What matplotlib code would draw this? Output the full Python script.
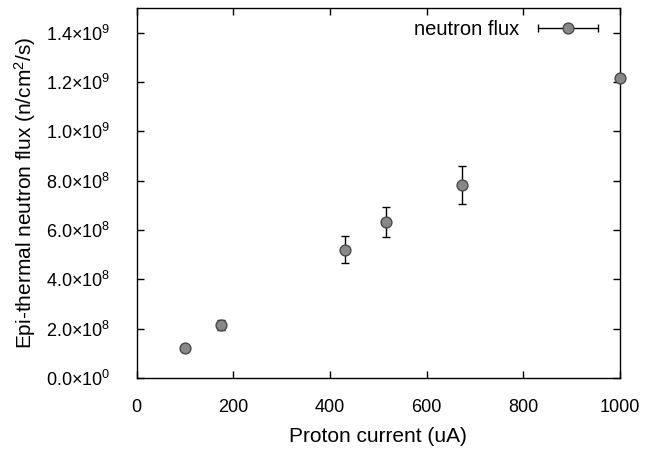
import matplotlib
matplotlib.use("Agg")
import matplotlib.pyplot as plt
import numpy as np
from matplotlib.container import ErrorbarContainer
from matplotlib.legend_handler import HandlerErrorbar
from matplotlib.ticker import FuncFormatter, MultipleLocator

plt.rcParams['font.family'] = ['Liberation Sans', 'DejaVu Sans']
plt.rcParams['mathtext.fontset'] = 'custom'
plt.rcParams['mathtext.rm'] = 'Liberation Sans'
plt.rcParams['mathtext.it'] = 'Liberation Sans:italic'
plt.rcParams['mathtext.bf'] = 'Liberation Sans:bold'

# Data
proton_current = [100, 175, 432, 515, 674, 1000]
neutron_flux = [1.2e8, 2.15e8, 5.2e8, 6.33e8, 7.82e8, 1.216e9]
flux_err = [0.1e8, 0.22e8, 0.54e8, 0.6e8, 0.78e8, 0.0]
x_ticks = [0, 200, 400, 600, 800, 1000]

FS_TICK = 13
FS_LABEL = 15
FS_LEG = 14.5

fig = plt.figure(figsize=(6.58, 4.55), dpi=100)
ax = fig.add_axes([136.5/658, 1-378/455, (620-136.5)/658, (378-8)/455])

eb = ax.errorbar(proton_current, neutron_flux, yerr=flux_err, fmt='o',
                 color='black', ecolor='black', elinewidth=1.0, capsize=3.0,
                 capthick=1.0, markersize=7.8, markerfacecolor='#888888',
                 markeredgecolor='#4a4a4a', markeredgewidth=1.0, clip_on=False,
                 zorder=3)
for a in eb.lines[1]:
    a.set_clip_on(False)
for a in eb.lines[2]:
    a.set_clip_on(False)

ax.set_xlim(0, 1000)
ax.set_ylim(0, 1.5e9)
ax.set_xticks(x_ticks)
ax.yaxis.set_major_locator(MultipleLocator(2e8))


def yfmt(v, pos):
    if v == 0:
        return r'0.0$\times$10$^{0}$'
    e = int(np.floor(np.log10(abs(v))))
    m = v / 10**e
    return r'%.1f$\times$10$^{%d}$' % (m, e)


ax.yaxis.set_major_formatter(FuncFormatter(yfmt))
ax.tick_params(direction='in', length=5, width=1.0, top=True, right=True,
               labelsize=FS_TICK, colors='black')
ax.tick_params(axis='x', pad=15)
ax.tick_params(axis='y', pad=19)
for s in ax.spines.values():
    s.set_linewidth(1.0)

ax.set_xlabel('Proton current (uA)', fontsize=FS_LABEL, labelpad=8)
ax.set_ylabel(r'Epi-thermal neutron flux (n/cm$^{2}$/s)', fontsize=FS_LABEL, labelpad=6)

proxy = ErrorbarContainer((eb.lines[0], eb.lines[1], eb.lines[2]),
                          has_xerr=True, has_yerr=False)
leg = ax.legend([proxy], ['neutron flux'], loc='upper right', frameon=False,
                markerfirst=False, fontsize=FS_LEG, handlelength=3.1,
                borderaxespad=0.2, handletextpad=0.85,
                bbox_to_anchor=(0.982, 1.0),
                handler_map={ErrorbarContainer: HandlerErrorbar(xerr_size=1.5)})

fig.savefig('out.png', dpi=100)
